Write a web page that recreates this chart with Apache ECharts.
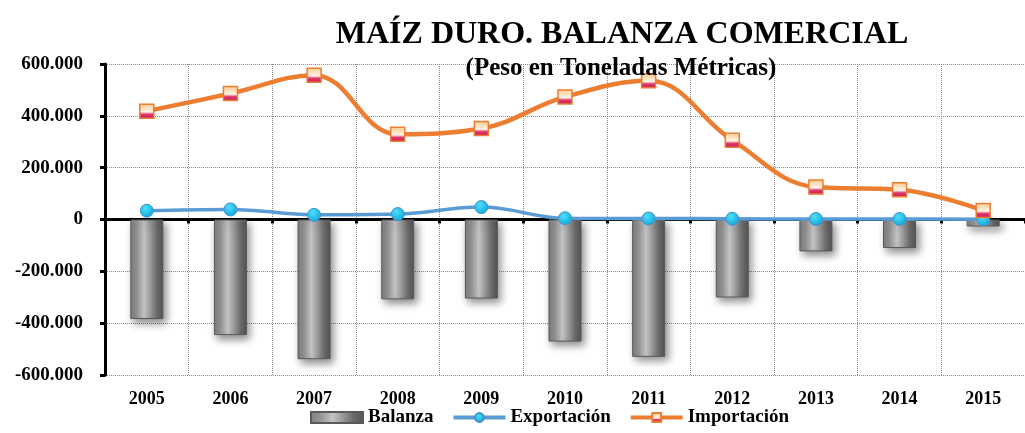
<!DOCTYPE html>
<html>
<head>
<meta charset="utf-8">
<script src="https://cdn.jsdelivr.net/npm/echarts@6/dist/echarts.min.js"></script>
<style>
  html, body { margin: 0; padding: 0; background: #fff; }
  #main { width: 1025px; height: 433px; }
</style>
</head>
<body>
<div id="main"></div>
<script>
// datos (toneladas metricas)
var years = ['2005', '2006', '2007', '2008', '2009', '2010', '2011', '2012', '2013', '2014', '2015'];
var importacion = [418000, 486000, 557000, 329000, 351000, 473000, 535000, 306000, 125000, 115000, 35000];
var exportacion = [34000, 39000, 18000, 21000, 48000, 5000, 4000, 3000, 2000, 2000, 1000];
var balanza = [-384000, -446000, -539000, -308000, -305000, -471000, -530000, -301000, -123000, -110000, -27000];
var yTicks = { min: -600000, max: 600000, step: 200000 };

var serif = 'Liberation Serif';

function miles(v) {
    var s = String(Math.abs(v)).replace(/\B(?=(\d{3})+(?!\d))/g, '.');
    return (v < 0 ? '-' : '') + s;
}

var chart = echarts.init(document.getElementById('main'));

var option = {
    animation: false,
    title: [
        {
            text: 'MAÍZ DURO. BALANZA COMERCIAL',
            left: 617, top: 14, textAlign: 'center',
            textStyle: { fontFamily: serif, fontWeight: 'bold', fontSize: 32, color: '#000' }
        },
        {
            text: '(Peso en Toneladas Métricas)',
            left: 616, top: 51, textAlign: 'center',
            textStyle: { fontFamily: serif, fontWeight: 'bold', fontSize: 25, color: '#000' }
        }
    ],
    legend: {
        left: 305, bottom: 1,
        itemWidth: 52, itemHeight: 11, itemGap: 18,
        textStyle: { fontFamily: serif, fontWeight: 'bold', fontSize: 19, color: '#000' },
        data: [
            { name: 'Balanza', icon: 'rect' },
            { name: 'Exportación', lineStyle: { width: 4 } },
            { name: 'Importación', lineStyle: { width: 4 } }
        ]
    },
    grid: { left: 105, right: -5, top: 64, bottom: 58 },
    xAxis: [
        {
            type: 'category', data: years,
            axisLine: { show: false, onZero: false },
            axisTick: { show: false },
            axisLabel: { margin: 15, fontFamily: serif, fontWeight: 'bold', fontSize: 18, color: '#000' },
            splitLine: { show: true, lineStyle: { type: 'dotted', color: '#888', width: 1 } }
        },
        {
            type: 'category', data: years, position: 'bottom',
            axisLine: { show: true, onZero: true, lineStyle: { color: '#000', width: 3 } },
            axisTick: { show: true, length: 4, lineStyle: { color: '#000', width: 3 } },
            axisLabel: { show: false },
            splitLine: { show: false }
        }
    ],
    yAxis: {
        type: 'value', min: yTicks.min, max: yTicks.max, interval: yTicks.step,
        axisLine: { show: true, lineStyle: { color: '#000', width: 3 } },
        axisTick: { show: true, length: 5, lineStyle: { color: '#000', width: 3 } },
        axisLabel: { margin: 22, formatter: miles, fontFamily: serif, fontWeight: 'bold', fontSize: 19, color: '#000' },
        splitLine: { show: true, lineStyle: { type: 'dotted', color: '#888', width: 1 } }
    },
    series: [
        {
            name: 'Balanza', type: 'bar', data: balanza, barWidth: 33, z: 1,
            itemStyle: {
                color: new echarts.graphic.LinearGradient(0, 0, 1, 0, [
                    { offset: 0, color: '#7e7e7e' },
                    { offset: 0.2, color: '#969696' },
                    { offset: 0.42, color: '#c4c4c4' },
                    { offset: 0.58, color: '#a0a0a0' },
                    { offset: 0.8, color: '#6c6c6c' },
                    { offset: 1, color: '#545454' }
                ]),
                borderColor: '#5a5a5a', borderWidth: 1,
                shadowBlur: 8, shadowColor: 'rgba(0,0,0,0.45)', shadowOffsetX: 3, shadowOffsetY: 4
            }
        },
        {
            name: 'Exportación', type: 'line', data: exportacion, smooth: 0.4, z: 3,
            symbol: 'circle', symbolSize: 13,
            lineStyle: { color: '#5b9bd5', width: 3.5 },
            itemStyle: {
                color: new echarts.graphic.RadialGradient(0.4, 0.35, 0.7, [
                    { offset: 0, color: '#4fe0f8' },
                    { offset: 1, color: '#0aa4da' }
                ]),
                borderColor: '#4a8fd0', borderWidth: 1
            }
        },
        {
            name: 'Importación', type: 'line', data: importacion, smooth: 0.4, z: 4,
            symbol: 'rect', symbolSize: 14,
            lineStyle: { color: '#ed7d31', width: 4.5 },
            itemStyle: {
                color: new echarts.graphic.LinearGradient(0, 0, 0, 1, [
                    { offset: 0, color: '#f9c98a' },
                    { offset: 0.55, color: '#fff3e6' },
                    { offset: 0.7, color: '#e03a6a' },
                    { offset: 1, color: '#c0185a' }
                ]),
                borderColor: '#ed7d31', borderWidth: 1.5
            }
        }
    ]
};

chart.setOption(option);
</script>
</body>
</html>
